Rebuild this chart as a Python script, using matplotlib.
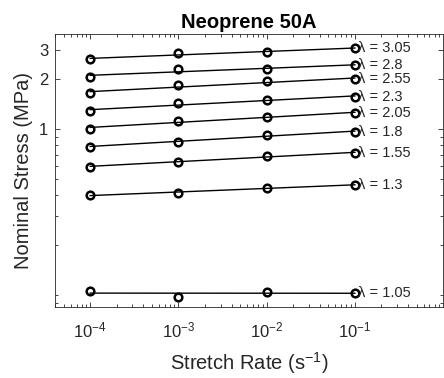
import numpy as np
import matplotlib
matplotlib.use('Agg')
import matplotlib.pyplot as plt
from matplotlib.ticker import FixedLocator, LogLocator, NullFormatter

plt.rcParams['font.family'] = ['Liberation Sans', 'DejaVu Sans']
plt.rcParams['mathtext.fontset'] = 'custom'
plt.rcParams['mathtext.rm'] = 'Liberation Sans'
plt.rcParams['mathtext.it'] = 'Liberation Sans:italic'

# stretch rates (1/s)
rates = [1e-4, 1e-3, 1e-2, 1e-1]
rate_labels = ['10$^{-4}$', '10$^{-3}$', '10$^{-2}$', '10$^{-1}$']
stretch = [1.05, 1.3, 1.55, 1.8, 2.05, 2.3, 2.55, 2.8, 3.05]

# nominal stress (MPa), one row per stretch level
stress = [
    [0.106, 0.097, 0.105, 0.103],
    [0.402, 0.412, 0.441, 0.464],
    [0.595, 0.635, 0.694, 0.717],
    [0.786, 0.842, 0.920, 0.967],
    [1.01, 1.12, 1.19, 1.25],
    [1.29, 1.43, 1.50, 1.57],
    [1.65, 1.84, 1.94, 2.00],
    [2.07, 2.30, 2.31, 2.43],
    [2.64, 2.87, 2.92, 3.08],
]

grey = '#262626'
fig = plt.figure(figsize=(4.44, 3.78), dpi=100)
ax = fig.add_axes([0.124, 0.189, 0.874, 0.721])

x = np.array(rates)
for lam, s in zip(stretch, stress):
    s = np.array(s)
    # power-law fit drawn as a straight line in log-log space
    p = np.polyfit(np.log10(x), np.log10(s), 1)
    ax.plot(x, 10 ** np.polyval(p, np.log10(x)), color='black', lw=1.0)
    ax.plot(x, s, 'o', mfc='none', mec='black', mew=1.8, ms=5.5)
    ax.annotate('λ = %g' % lam, (x[-1], s[-1]), xytext=(2, 0),
                textcoords='offset points', va='center', ha='left',
                fontsize=10.5, color=grey)

ax.set_xscale('log')
ax.set_yscale('log')
ax.set_xlim(4e-5, 1)
ax.set_ylim(0.0853, 3.75)

ax.yaxis.set_major_locator(FixedLocator([1, 2, 3]))
ax.set_yticklabels(['1', '2', '3'])
ax.yaxis.set_minor_locator(LogLocator(base=10, subs=np.arange(1, 10)))
ax.yaxis.set_minor_formatter(NullFormatter())
ax.xaxis.set_major_locator(FixedLocator(rates))
ax.set_xticklabels(rate_labels)
ax.xaxis.set_minor_locator(LogLocator(base=10, subs=np.arange(2, 10)))
ax.xaxis.set_minor_formatter(NullFormatter())

ax.tick_params(which='both', direction='in', top=True, right=True,
               colors=grey, labelsize=12, width=0.6)
ax.tick_params(axis='x', pad=10)
ax.tick_params(axis='y', pad=5)
ax.tick_params(which='major', length=3.5)
ax.tick_params(which='minor', length=2)
for sp in ax.spines.values():
    sp.set_color(grey)
    sp.set_linewidth(0.6)

ax.set_title('Neoprene 50A', fontsize=14.5, fontweight='bold', pad=4)
ax.set_xlabel('Stretch Rate (s$^{-1}$)', fontsize=14.5, color=grey, labelpad=7)
ax.set_ylabel('Nominal Stress (MPa)', fontsize=14.5, color=grey, labelpad=4)

fig.savefig('out.png', dpi=100)
